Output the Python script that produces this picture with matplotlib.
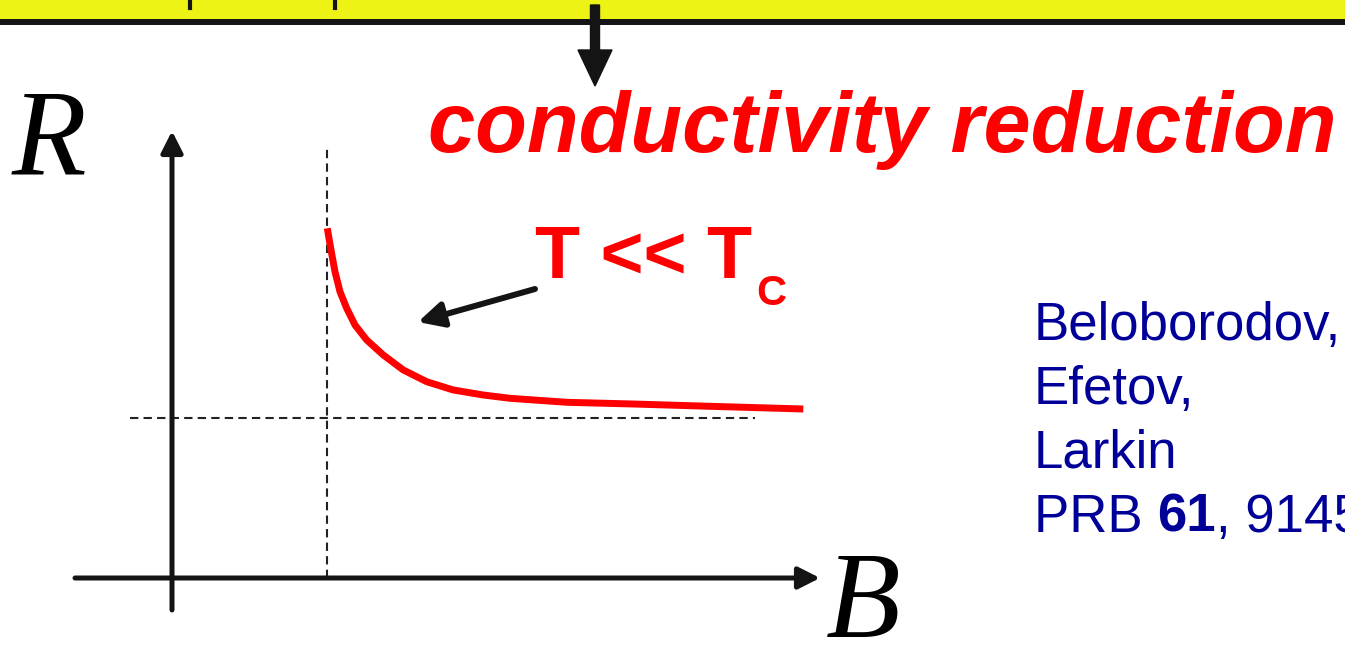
import matplotlib
matplotlib.use("Agg")
import matplotlib.pyplot as plt
from matplotlib.patches import Rectangle, FancyArrow

# schematic R(B) curve, T << Tc (arbitrary units, origin at the axes crossing)
B = [1.553, 1.587, 1.630, 1.680, 1.747, 1.830, 1.947, 2.113, 2.313, 2.547,
     2.813, 3.113, 3.380, 3.947, 4.613, 5.280, 6.313]
R = [3.497, 3.297, 3.063, 2.863, 2.697, 2.530, 2.380, 2.230, 2.080, 1.963,
     1.880, 1.830, 1.797, 1.757, 1.740, 1.720, 1.690]
B_c = 1.55       # vertical dashed guide
R_inf = 1.60     # horizontal dashed guide (limit)

title = "conductivity reduction"
curve_label = "T << T"
curve_sub = "C"
ref_lines = ["Beloborodov,", "Efetov,", "Larkin"]
ref_journal = ["PRB ", "61", ", 9145"]

W, H = 1345, 648
fig = plt.figure(figsize=(W / 100, H / 100), dpi=100)
fig.patch.set_facecolor("white")

# schematic axes: 1 unit = 100 px, origin at pixel (172, 578)
ax = fig.add_axes([0, 0, 1, 1])
ax.set_xlim(-172 / 100, (W - 172) / 100)
ax.set_ylim(-(H - 578) / 100, 578 / 100)
ax.axis("off")

# overlay in pixel coordinates for the slide decorations
deco = fig.add_axes([0, 0, 1, 1])
deco.set_xlim(0, W)
deco.set_ylim(H, 0)
deco.axis("off")
deco.patch.set_alpha(0)

axis_col = "#141414"
arrow_kw = dict(arrowstyle="-|>,head_length=0.65,head_width=0.33", lw=3.6,
                color=axis_col, mutation_scale=20, shrinkA=0, shrinkB=0)
ax.annotate("", xy=(0, 4.47), xytext=(0, -0.32), arrowprops=arrow_kw)
ax.annotate("", xy=(6.48, 0), xytext=(-0.97, 0), arrowprops=arrow_kw)

ax.plot([B_c, B_c], [0, 4.33], color="#222222", lw=1.5, dashes=(4, 2.5))
ax.plot([-0.42, 5.83], [R_inf, R_inf], color="#222222", lw=1.5, dashes=(4, 2.5))

ax.plot(B, R, color="#ff0000", lw=5, solid_capstyle="butt", solid_joinstyle="round")

# top of slide: yellow box, rule, down arrow
deco.add_patch(Rectangle((0, 0), W, 20, facecolor="#eef316", edgecolor="none"))
deco.plot([0, W], [22, 22], color="#141414", lw=4.3)
deco.plot([190, 190], [0, 8], color="#141414", lw=3)
deco.plot([335, 335], [0, 8], color="#141414", lw=3)
deco.add_patch(FancyArrow(595, 5, 0, 81, width=9, head_width=34, head_length=36,
                          length_includes_head=True, color="#141414"))

deco.text(428, 152, title, color="#ff0000", fontsize=61, fontweight="bold",
          fontstyle="italic", family="Liberation Sans", va="baseline", ha="left")

deco.text(535, 278, curve_label, color="#ff0000", fontsize=53, fontweight="bold",
          family="Liberation Sans", va="baseline", ha="left")
deco.text(756, 305, curve_sub, color="#ff0000", fontsize=30, fontweight="bold",
          family="Liberation Sans", va="baseline", ha="left")
deco.annotate("", xy=(418, 322), xytext=(535, 289),
              arrowprops=dict(arrowstyle="-|>,head_length=0.75,head_width=0.38",
                              lw=4.3, color="#141414", mutation_scale=20,
                              shrinkA=0, shrinkB=0))

deco.text(12, 173, "R", fontsize=88, fontstyle="italic", family="Liberation Serif",
          va="baseline", ha="left", color="black")
deco.text(826, 637, "B", fontsize=88, fontstyle="italic", family="Liberation Serif",
          va="baseline", ha="left", color="black")

blue = "#000099"
for i, line in enumerate(ref_lines):
    deco.text(1034, 340 + 64 * i, line, color=blue, fontsize=38,
              family="Liberation Sans", va="baseline", ha="left")

# journal line with bold volume, pieces placed one after another
renderer = fig.canvas.get_renderer()
x = 1034
inv = deco.transData.inverted()
for j, piece in enumerate(ref_journal):
    t = deco.text(x, 532, piece, color=blue, fontsize=38, family="Liberation Sans",
                  fontweight="bold" if j == 1 else "normal", va="baseline", ha="left")
    bb = t.get_window_extent(renderer)
    x = inv.transform((bb.x1, 0))[0]

fig.savefig("out.png", dpi=100)
